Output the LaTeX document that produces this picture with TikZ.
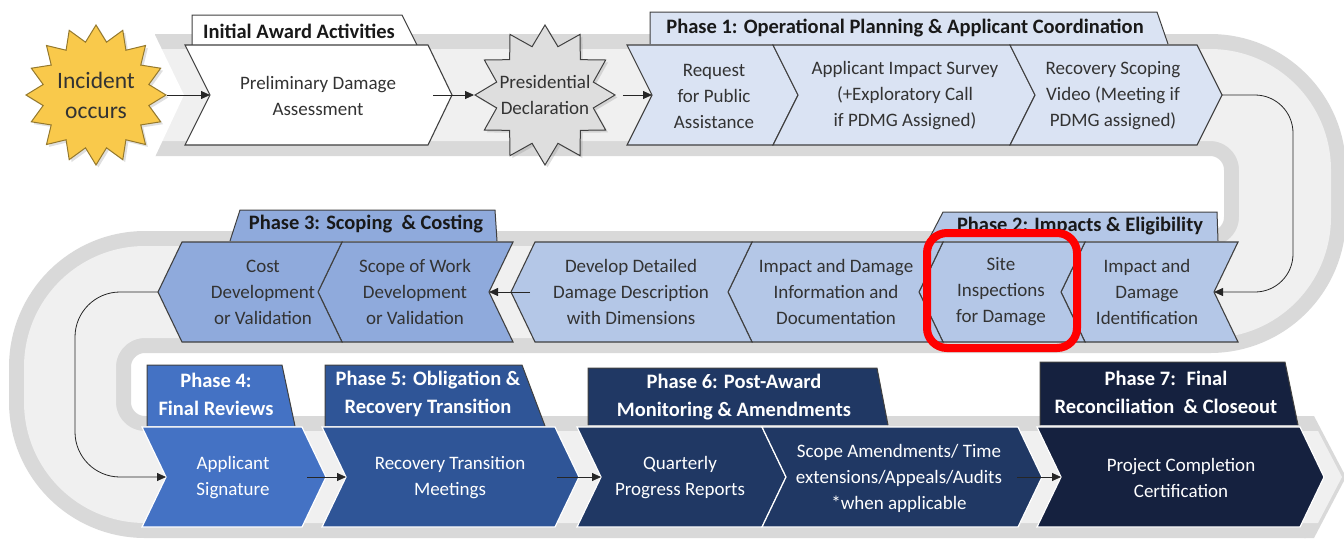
\documentclass[tikz,border=0pt]{standalone}
\usepackage{fontspec}
\setmainfont{Carlito}
\usetikzlibrary{shapes.geometric,arrows.meta,shadows}

\definecolor{trackgray}{HTML}{D9D9D9}
\definecolor{tracklight}{HTML}{F0F0F0}
\definecolor{phaseone}{HTML}{DAE3F3}
\definecolor{phasetwo}{HTML}{B4C7E7}
\definecolor{phasethree}{HTML}{8FAADC}
\definecolor{phasefour}{HTML}{4472C4}
\definecolor{phasefive}{HTML}{2F5597}
\definecolor{phasesix}{HTML}{203864}
\definecolor{phaseseven}{HTML}{15213F}
\definecolor{incidentgold}{HTML}{F9C94B}
\definecolor{textgray}{HTML}{333333}

\tikzset{
  chev/.style={draw=black!75, line width=1.1pt, line join=miter},
  chevdark/.style={draw=white, line width=1.2pt, line join=miter},
  tabbox/.style={draw=black!75, line width=1pt},
  starbox/.style={star, inner sep=0pt, minimum size=140pt, line width=1pt, drop shadow={opacity=0.25}},
  txt/.style={align=center, text=textgray, font=\fontsize{19}{26}\selectfont},
  txtw/.style={align=center, text=white, font=\fontsize{19}{26}\selectfont},
  tabtxt/.style={align=center, text=black!90, font=\bfseries\fontsize{20.5}{28}\selectfont},
  tabtxtw/.style={align=center, text=white, font=\bfseries\fontsize{20.5}{28}\selectfont},
  arr/.style={-{Triangle[length=9pt,width=8pt]}, line width=0.8pt, black!85},
}

\begin{document}
\begin{tikzpicture}[x=1pt,y=-1pt]
\useasboundingbox (0,0) rectangle (1344,539);

% the track
\draw[trackgray, line width=122pt, rounded corners=75pt] (155,95) -- (1285,95) -- (1285,292) -- (70,292) -- (70,477) -- (1306,477);
\draw[tracklight, line width=92pt, rounded corners=75pt] (155,95) -- (1285,95) -- (1285,292) -- (70,292) -- (70,477) -- (1306,477);
\fill[trackgray] (1304,416) -- (1314,416) -- (1346,477) -- (1314,538) -- (1304,538) -- cycle;
\fill[tracklight] (1304,431) -- (1318,431) -- (1342,477) -- (1318,523) -- (1304,523) -- cycle;
\fill[white] (154,33) -- (184,95) -- (154,159) -- cycle;

% tabs
\draw[tabbox, fill=white] (192,45) -- (192,15) -- (402,15) -- (417,45);
\node[tabtxt] (tab-ia) at (299,31) {Initial Award Activities};
\draw[tabbox, fill=phaseone] (650,44) -- (650,12) -- (1157,12) -- (1168,44);
\node[tabtxt] (tab-p1) at (905,28) {Phase 1: Operational Planning \& Applicant Coordination};
\draw[tabbox, fill=phasethree] (230,241) -- (240,210) -- (495,210) -- (497,241);
\node[tabtxt] (tab-p3) at (366,224) {Phase 3: Scoping~ \& Costing};
\draw[tabbox, fill=phasetwo] (928,241) -- (943,212) -- (1217,212) -- (1218,241);
\node[tabtxt] (tab-p2) at (1080,226) {Phase 2: Impacts \& Eligibility};
\draw[tabbox, fill=phasefour] (147,426) -- (147,365) -- (282,365) -- (295,426);
\node[tabtxtw] (tab-p4) at (216,394) {Phase 4:\\Final Reviews};
\draw[tabbox, fill=phasefive] (325,426) -- (325,365) -- (522,365) -- (545,426);
\node[tabtxtw] (tab-p5) at (428,394) {Phase 5: Obligation \&\\Recovery Transition};
\draw[tabbox, fill=phasesix] (588,425) -- (588,368) -- (877,368) -- (888,425);
\node[tabtxtw] (tab-p6) at (734,397) {Phase 6: Post-Award\\Monitoring \& Amendments};
\draw[tabbox, fill=phaseseven] (1040,425) -- (1040,362) -- (1285,362) -- (1298,425);
\node[tabtxtw] (tab-p7) at (1166,392) {Phase 7:~ Final\\Reconciliation~ \& Closeout};

% top row
\draw[chev, fill=white] (185,45) -- (428,45) -- (452,95) -- (428,145) -- (185,145) -- (210,95) -- cycle;
\node[txt] (pda) at (318,96) {Preliminary Damage\\Assessment};
\draw[chev, fill=phaseone] (627,45) -- (773,45) -- (798,95) -- (773,145) -- (627,145) -- (652,95) -- cycle;
\node[txt] (rpa) at (714,96) {Request\\for Public\\Assistance};
\draw[chev, fill=phaseone] (773,45) -- (1010,45) -- (1035,95) -- (1010,145) -- (773,145) -- (798,95) -- cycle;
\node[txt] (ais) at (905,96) {Applicant Impact Survey\\(+Exploratory Call\\if PDMG Assigned)};
\draw[chev, fill=phaseone] (1010,45) -- (1197,45) -- (1222,95) -- (1197,145) -- (1010,145) -- (1035,95) -- cycle;
\node[txt] (rsv) at (1113,96) {Recovery Scoping\\Video (Meeting if\\PDMG assigned)};

\node[starbox, star points=16, star point ratio=1.3, draw=incidentgold!60!black, fill=incidentgold] (incident) at (96,95) {};
\node[align=center, font=\fontsize{23.5}{30}\selectfont, text=textgray] (incident-txt) at (incident) {Incident\\occurs};
\node[starbox, star points=12, star point ratio=1.4, draw=black!75, fill=black!13] (presdecl) at (545,95) {};
\node[txt] (presdecl-txt) at (presdecl) {Presidential\\Declaration};

% middle row
\draw[chev, fill=phasetwo] (1238,242) -- (1085,242) -- (1061,292) -- (1085,342) -- (1238,342) -- (1214,292) -- cycle;
\node[txt] (iid) at (1147,292) {Impact and\\Damage\\Identification};
\draw[chev, fill=phasetwo] (1085,242) -- (943,242) -- (919,292) -- (943,342) -- (1085,342) -- (1061,292) -- cycle;
\node[txt] (sid) at (1001,292) {Site\\Inspections\\for Damage};
\draw[chev, fill=phasetwo] (943,242) -- (752,242) -- (728,292) -- (752,342) -- (943,342) -- (919,292) -- cycle;
\node[txt] (idi) at (836,292) {Impact and Damage\\Information and\\Documentation};
\draw[chev, fill=phasetwo] (752,242) -- (535,242) -- (511,292) -- (535,342) -- (752,342) -- (728,292) -- cycle;
\node[txt] (ddd) at (631,292) {Develop Detailed\\Damage Description\\with Dimensions};
\draw[chev, fill=phasethree] (513,242) -- (342,242) -- (318,292) -- (342,342) -- (513,342) -- (489,292) -- cycle;
\node[txt] (sow) at (415,292) {Scope of Work\\Development\\or Validation};
\draw[chev, fill=phasethree] (342,242) -- (182,242) -- (158,292) -- (182,342) -- (342,342) -- (318,292) -- cycle;
\node[txt] (cdv) at (263,292) {Cost\\Development\\or Validation};

% bottom row
\draw[chevdark, fill=phasefour] (142,427) -- (302,427) -- (326,477) -- (302,527) -- (142,527) -- (166,477) -- cycle;
\node[txtw] (asg) at (233,478) {Applicant\\Signature};
\draw[chevdark, fill=phasefive] (322,427) -- (555,427) -- (579,477) -- (555,527) -- (322,527) -- (346,477) -- cycle;
\node[txtw] (rtm) at (450,478) {Recovery Transition\\Meetings};
\draw[chevdark, fill=phasesix] (577,427) -- (762,427) -- (786,477) -- (762,527) -- (577,527) -- (601,477) -- cycle;
\node[txtw] (qpr) at (680,478) {Quarterly\\Progress Reports};
\draw[chevdark, fill=phasesix] (762,427) -- (1018,427) -- (1042,477) -- (1018,527) -- (762,527) -- (786,477) -- cycle;
\node[txtw] (sam) at (899,478) {Scope Amendments/ Time\\extensions/Appeals/Audits\\*when applicable};
\draw[chevdark, fill=phaseseven] (1037,427) -- (1300,427) -- (1324,477) -- (1300,527) -- (1037,527) -- (1061,477) -- cycle;
\node[txtw] (pcc) at (1181,478) {Project Completion\\Certification};

% connector ends
\coordinate (pda-in) at (210,95);
\coordinate (pda-out) at (433,95);
\coordinate (rpa-in) at (652,95);
\coordinate (rsv-out) at (1222,95);
\coordinate (iid-in) at (1214,292);
\coordinate (ddd-out) at (530,292);
\coordinate (sow-in) at (489,292);
\coordinate (cdv-out) at (158,292);
\coordinate (asg-in) at (166,477);
\coordinate (asg-out) at (307,477);
\coordinate (rtm-in) at (346,477);
\coordinate (rtm-out) at (557,477);
\coordinate (qpr-in) at (601,477);
\coordinate (sam-out) at (1017,477);
\coordinate (pcc-in) at (1061,477);

\draw[arr] (incident.east) -- (pda-in);
\draw[arr] (pda-out) -- (presdecl.west);
\draw[arr, shorten <=7pt] (presdecl.east) -- (rpa-in);
\draw[arr, rounded corners=38pt] (rsv-out) -- ++(71,0) |- (iid-in);
\draw[arr] (ddd-out) -- (sow-in);
\draw[arr, rounded corners=45pt] (cdv-out) -- ++(-83,0) |- (asg-in);
\draw[arr] (asg-out) -- (rtm-in);
\draw[arr] (rtm-out) -- (qpr-in);
\draw[arr] (sam-out) -- (pcc-in);

% highlight
\draw[red, line width=8pt, rounded corners=20pt] (927,233) rectangle (1077,348);
\end{tikzpicture}
\end{document}
